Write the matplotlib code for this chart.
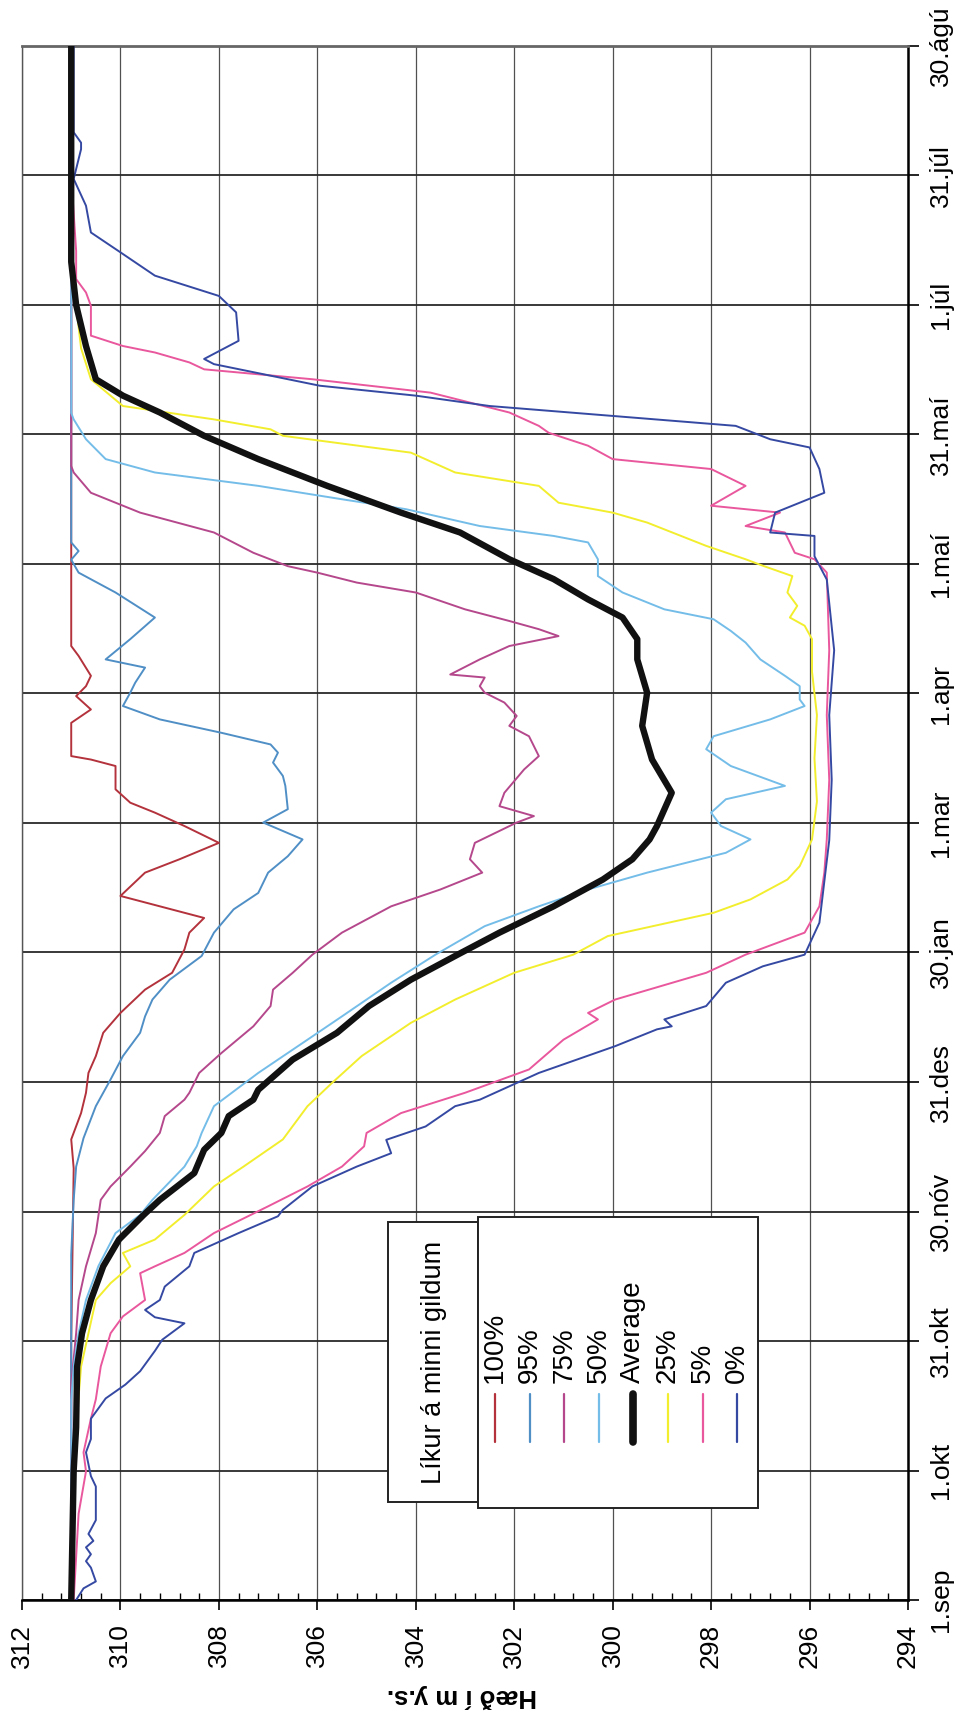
import matplotlib
matplotlib.use("Agg")
import matplotlib.pyplot as plt
from matplotlib import font_manager
from matplotlib.lines import Line2D
from matplotlib.patches import Rectangle

# day number counted from 1.sep, elevation in m y.s.
days_100 = [0, 60, 100, 106.7, 112.8, 117.5, 122.1, 126, 131.4, 136, 141.4, 145.3, 150.7, 154.6, 158,
            163.1, 168.5, 171.6, 175.4, 179.3, 182.4, 184.7, 187.8, 193.2, 194.7, 195.5, 203.2, 206.3,
            209.4, 211.7, 214.1, 218.7, 221, 360]
elev_100 = [311.0, 311.0, 310.95, 311.0, 310.8, 310.7, 310.65, 310.5, 310.35, 310.0, 309.5, 308.95, 308.7,
            308.6, 308.3, 310.0, 309.5, 308.8, 308.0, 308.7, 309.3, 309.8, 310.1, 310.1, 310.6, 311.0, 311.0,
            310.6, 310.9, 310.7, 310.6, 310.85, 311.0, 311.0]

days_95 = [0, 80, 92.7, 100.4, 107, 114.4, 120.6, 126, 131.4, 135.2, 139.1, 143.7, 149.2, 154.6, 160,
           163.8, 168.5, 172.3, 176.2, 180.1, 183.2, 188.6, 190.9, 194, 196.3, 198.2, 200.9, 204, 207.1,
           210.2, 212.5, 216, 217.9, 222.6, 227.6, 233.4, 238, 241, 243, 245, 360]
elev_95 = [311.0, 311.0, 310.95, 310.9, 310.75, 310.5, 310.2, 309.95, 309.6, 309.5, 309.35, 309.0, 308.35,
           308.1, 307.7, 307.2, 307.0, 306.6, 306.3, 307.1, 306.6, 306.65, 306.7, 306.9, 306.8, 306.95,
           307.95, 309.2, 309.95, 309.8, 309.7, 309.5, 310.3, 309.8, 309.3, 310.1, 310.85, 311.0, 310.85,
           311.0, 311.0]

days_75 = [0, 50, 61.8, 69.5, 77.3, 85, 92.7, 95.8, 100.4, 104, 108.2, 112.1, 115.9, 117.5, 122.1, 126.7,
           132.9, 137.6, 141.4, 145.3, 149.5, 154.6, 160.7, 164.6, 168.5, 171.6, 175.4, 180.1, 181.6,
           183.9, 187, 192.4, 195.5, 200.1, 202.5, 204.8, 207.9, 210.2, 211.7, 213.7, 214.4, 217.9, 221,
           223.3, 224.9, 226.8, 229.5, 233.4, 235.7, 238, 239.5, 242.6, 247.3, 251.9, 256.5, 261.2, 262.7,
           360]
elev_75 = [311.0, 311.0, 310.9, 310.85, 310.7, 310.5, 310.4, 310.2, 309.8, 309.5, 309.2, 309.1, 308.7,
           308.6, 308.4, 307.95, 307.3, 306.95, 306.9, 306.5, 306.1, 305.5, 304.5, 303.5, 302.65, 302.9,
           302.8, 301.95, 301.6, 302.3, 302.2, 301.8, 301.5, 301.7, 302.1, 301.95, 302.2, 302.6, 302.7,
           302.6, 303.3, 302.7, 302.1, 301.1, 301.5, 302.1, 303.0, 304.0, 305.2, 306.0, 306.6, 307.3,
           308.1, 309.6, 310.6, 310.95, 311.0, 311.0]

days_50 = [0, 40, 46.4, 54.1, 61.8, 69.5, 77.3, 85, 89.2, 92.7, 100.4, 105.1, 108.2, 114.4, 122.1, 129.8,
           135.2, 143, 149.5, 156.1, 160.7, 164.6, 168.5, 173.1, 176.2, 179.3, 182.4, 185.5, 188.6, 193.2,
           197.1, 200.1, 204, 207.1, 208.6, 211.7, 214.1, 217.9, 221.8, 224.5, 227.2, 229.5, 233.4, 237.2,
           241.1, 245, 246.5, 248.8, 252.7, 255, 258.1, 261.2, 264.3, 268.9, 273.5, 275, 360]
elev_50 = [311.0, 311.0, 311.0, 310.95, 310.85, 310.7, 310.45, 310.1, 309.6, 309.35, 308.7, 308.45, 308.35,
           308.1, 307.2, 306.2, 305.5, 304.5, 303.6, 302.6, 301.5, 300.5, 299.3, 297.7, 297.2, 297.8,
           298.0, 297.7, 296.5, 297.6, 298.1, 297.95, 296.8, 296.1, 296.2, 296.2, 296.5, 297.0, 297.3,
           297.6, 297.95, 298.95, 299.8, 300.3, 300.3, 300.5, 301.2, 302.7, 304.2, 305.5, 307.2, 309.3,
           310.3, 310.7, 310.95, 311.0, 311.0]

days_avg = [0, 30, 40, 54.1, 61.8, 69.5, 77.3, 83.5, 89.2, 92.7, 98.9, 104.3, 108.2, 112.1, 115.9, 118.2,
            125.2, 131.4, 137.6, 143.7, 149.5, 154.6, 160.7, 166.9, 171.6, 176.2, 179.3, 187, 194.7, 202.5,
            210.2, 217.9, 222.6, 227.6, 231.8, 236.5, 241.1, 247.3, 251.9, 258.1, 264.3, 269.7, 275.1, 279,
            282.8, 290.5, 300, 310, 360]
elev_avg = [311.0, 310.95, 310.9, 310.88, 310.78, 310.6, 310.35, 310.03, 309.53, 309.2, 308.5, 308.3,
            307.95, 307.8, 307.3, 307.2, 306.5, 305.6, 304.95, 304.1, 303.15, 302.3, 301.2, 300.2, 299.6,
            299.25, 299.1, 298.8, 299.2, 299.4, 299.3, 299.5, 299.5, 299.8, 300.5, 301.2, 302.1, 303.1,
            304.3, 305.8, 307.2, 308.3, 309.2, 309.95, 310.5, 310.7, 310.9, 311.0, 311.0]

days_25 = [0, 20, 40, 54.1, 61.8, 69.5, 73.4, 77.3, 80.4, 83.5, 89.2, 95.8, 100.4, 106.7, 114.4, 119.8,
           126, 133.7, 139.1, 145.3, 149.5, 153.8, 159.2, 162.3, 166.9, 170, 176.2, 185, 195, 205, 215,
           222.6, 225.7, 227.6, 230.3, 233.4, 237.2, 239.6, 241.1, 244.2, 249.6, 251.9, 254.2, 258.1, 261.2,
           265.8, 269.7, 271.2, 273.5, 276.6, 282.8, 290, 299.8, 310, 360]
elev_25 = [311.0, 310.95, 310.9, 310.8, 310.65, 310.5, 310.2, 309.8, 309.95, 309.3, 308.7, 308.1, 307.5,
           306.7, 306.2, 305.7, 305.1, 304.1, 303.2, 302.0, 300.8, 300.1, 297.95, 297.2, 296.45, 296.2,
           295.95, 295.85, 295.9, 295.85, 295.95, 295.95, 296.1, 296.4, 296.25, 296.45, 296.35, 296.95,
           297.3, 298.1, 299.3, 300.0, 301.1, 301.5, 303.2, 304.1, 306.7, 306.95, 308.1, 309.95, 310.6,
           310.8, 310.9, 311.0, 311.0]

days_5 = [0, 10, 20, 29.8, 34.2, 42, 46.5, 54.1, 61.8, 65.7, 69.5, 75.7, 77.3, 80.4, 85, 91.2, 95.8, 100.4,
          105.1, 108.2, 112.8, 117.5, 122.9, 129.8, 134.5, 136, 139.1, 145.3, 149.5, 154.6, 160.7, 168.5,
          176.2, 190, 205, 220, 238, 241.1, 242.6, 247.3, 248.8, 251.9, 253.5, 258.1, 262, 264.3, 267.4,
          270.4, 272, 275.1, 279.7, 282.8, 285.1, 286.7, 289, 290.5, 292.9, 299.8, 302.9, 306, 312.5, 330,
          360]
elev_5 = [310.95, 310.9, 310.85, 310.7, 310.75, 310.6, 310.5, 310.4, 310.2, 309.95, 309.5, 309.6, 309.3,
          308.7, 308.1, 307.0, 306.2, 305.5, 305.05, 305.0, 304.3, 303.0, 301.7, 301.0, 300.3, 300.5, 299.95,
          298.1, 297.3, 296.1, 295.8, 295.7, 295.65, 295.6, 295.65, 295.6, 295.65, 295.9, 296.3, 296.5,
          297.3, 296.6, 298.0, 297.3, 298.0, 300.0, 300.5, 301.3, 301.5, 302.1, 303.7, 306.1, 308.3, 308.6,
          309.3, 309.95, 310.6, 310.6, 310.7, 310.9, 310.9, 311.0, 311.0]

days_0 = [0, 2.7, 4.3, 7.5, 9, 10.6, 12.2, 13.7, 15.3, 18.5, 26.3, 28.7, 34.2, 37.3, 42, 46.7, 49.9, 53,
          57.7, 60.3, 64.1, 65.5, 67.2, 69.5, 72.6, 77.3, 80.4, 85, 88.9, 90.4, 95.8, 100.4, 103.5, 106.6,
          109.7, 114.4, 115.9, 119, 122.1, 128.3, 132.2, 132.9, 134.5, 137.6, 143, 146.8, 149.5, 156.9,
          176, 190, 205, 220, 236.4, 241.8, 246.5, 247.3, 251.9, 256.5, 262, 267, 268.9, 272, 274.3, 276.6,
          279, 281.3, 286.3, 287.5, 291.7, 298.3, 302.1, 306.8, 312.2, 316.8, 323, 329.2, 336.1, 337.6,
          340, 360]
elev_0 = [310.9, 310.75, 310.5, 310.6, 310.7, 310.6, 310.7, 310.55, 310.65, 310.5, 310.5, 310.6, 310.7,
          310.6, 310.6, 310.3, 309.9, 309.6, 309.3, 309.15, 308.7, 309.3, 309.5, 309.2, 309.1, 308.6, 308.5,
          307.6, 306.8, 306.7, 306.1, 305.2, 304.5, 304.6, 303.8, 303.2, 302.7, 302.1, 301.5, 299.95, 299.1,
          298.8, 298.95, 298.1, 297.7, 296.95, 296.1, 295.8, 295.6, 295.55, 295.6, 295.5, 295.65, 295.9,
          295.9, 296.8, 296.7, 295.7, 295.8, 296.0, 296.8, 297.5, 300.0, 302.5, 304.0, 305.95, 308.1,
          308.3, 307.6, 307.65, 308.0, 309.3, 310.0, 310.6, 310.7, 310.95, 310.8, 310.8, 310.95, 310.95]

series_names = ["100%", "95%", "75%", "50%", "Average", "25%", "5%", "0%"]
series_colors = ["#b3323c", "#4f8fc6", "#b5488c", "#74bde9", "#111111", "#f2ee2e", "#e9579d", "#3549a3"]
series_days = [days_100, days_95, days_75, days_50, days_avg, days_25, days_5, days_0]
series_elev = [elev_100, elev_95, elev_75, elev_50, elev_avg, elev_25, elev_5, elev_0]

date_ticks = [0, 30, 60, 90, 120, 150, 180, 210, 240, 270, 300, 330, 360]
date_labels = ["1.sep", "1.okt", "31.okt", "30.nóv", "31.des", "30.jan", "1.mar", "1.apr",
               "1.maí", "31.maí", "1.júl", "31.júl", "30.ágú"]
elev_ticks = list(range(294, 313, 2))

names = {f.name for f in font_manager.fontManager.ttflist}
if "Liberation Sans Narrow" in names:
    narrow = "Liberation Sans Narrow"
    tick_size, leg_size, title_size = 21, 22, 21
else:
    narrow = "Liberation Sans"
    tick_size, leg_size, title_size = 19, 20, 19.5
plt.rcParams["font.family"] = ["Liberation Sans", "DejaVu Sans"]

W, H = 961, 1717
fig = plt.figure(figsize=(W / 100, H / 100), dpi=100)


def fx(px):
    return px / W


def fy(py):
    return 1 - py / H


ax = fig.add_axes([fx(22), fy(1600), fx(908 - 22), (1600 - 46) / H])

# the chart is drawn turned on its side: elevation across, days upwards
for d, e, c, n in zip(series_days, series_elev, series_colors, series_names):
    if n == "Average":
        ax.plot(e, d, color=c, lw=4.6, zorder=4, solid_capstyle="round", solid_joinstyle="round")
    else:
        ax.plot(e, d, color=c, lw=1.4, zorder=3)

ax.set_xlim(312, 294)
ax.set_ylim(0, 360)
ax.set_xticks(elev_ticks)
ax.set_xticklabels([str(t) for t in elev_ticks], rotation=90, family=narrow, size=tick_size)
ax.set_xticks([294 + 0.4 * i for i in range(46)], minor=True)
ax.set_yticks(date_ticks)
ax.set_yticklabels(date_labels, rotation=90, family=narrow, size=tick_size, va="center")
ax.tick_params(axis="x", which="major", direction="out", length=7, width=1.2, pad=10)
ax.tick_params(axis="x", which="minor", direction="in", length=5, width=1.0)
ax.tick_params(axis="y", which="major", left=False, labelleft=False, right=True, labelright=True,
               direction="out", length=8, width=1.2, pad=7)

ax.set_axisbelow(True)
ax.grid(axis="x", which="major", color="#505050", lw=0.9)
ax.grid(axis="y", which="major", color="#2a2a2a", lw=1.3)
ax.spines["bottom"].set_linewidth(1.8)
ax.spines["right"].set_linewidth(1.8)
ax.spines["top"].set_linewidth(2.0)
ax.spines["top"].set_color("#666666")
ax.spines["left"].set_linewidth(1.0)
ax.spines["left"].set_color("#555555")

fig.text(fx(462), fy(1696), "Hæð í m y.s.", rotation=180, ha="center", va="center",
         weight="bold", size=18.5)

# legend, turned like the rest of the chart
fig.add_artist(Rectangle((fx(388), fy(1502)), fx(478 - 388), (1502 - 1222) / H,
                         transform=fig.transFigure, facecolor="white", edgecolor="#222222", lw=1.4,
                         zorder=5))
fig.add_artist(Rectangle((fx(478), fy(1508)), fx(758 - 478), (1508 - 1217) / H,
                         transform=fig.transFigure, facecolor="white", edgecolor="#222222", lw=1.4,
                         zorder=5))
fig.text(fx(434), fy(1362), "Líkur á minni gildum", rotation=90, ha="center", va="center",
         family=narrow, size=title_size, zorder=6)
for i, (n, c) in enumerate(zip(series_names, series_colors)):
    x = fx(495 + i * 34.6)
    lw = 5.5 if n == "Average" else 1.6
    fig.add_artist(Line2D([x, x], [fy(1442), fy(1394)], transform=fig.transFigure, color=c, lw=lw,
                          solid_capstyle="round", zorder=6))
    fig.text(x, fy(1383), n, rotation=90, ha="center", va="bottom", family=narrow, size=leg_size,
             zorder=6)

fig.savefig("out.png", dpi=100)
plt.close(fig)
